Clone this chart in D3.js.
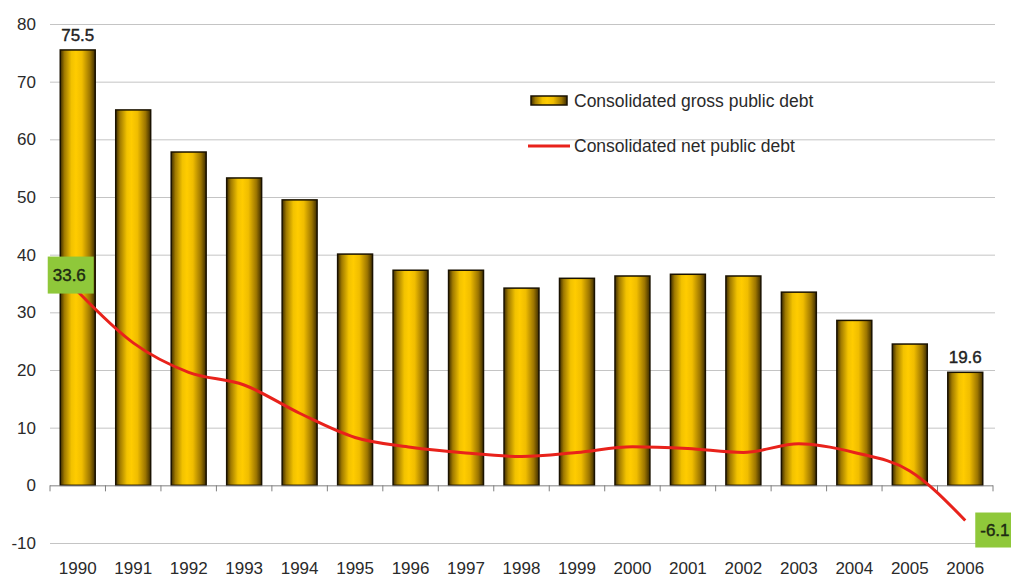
<!DOCTYPE html>
<html>
<head>
<meta charset="utf-8">
<script src="https://cdn.jsdelivr.net/npm/d3@7"></script>
<style>
  html, body { margin: 0; padding: 0; background: #fff; }
  svg { display: block; font-family: "Liberation Sans", Arial, sans-serif; }
</style>
</head>
<body>
<svg id="chart" width="1011" height="578"></svg>
<script>
// Public debt, % of GDP
const years = ["1990","1991","1992","1993","1994","1995","1996","1997","1998",
               "1999","2000","2001","2002","2003","2004","2005","2006"];
const grossDebt = [75.5, 65.1, 57.8, 53.3, 49.5, 40.1, 37.3, 37.3, 34.2,
                   35.9, 36.3, 36.6, 36.3, 33.5, 28.6, 24.5, 19.6];
const netDebt = [33.6, 24.7, 19.6, 17.4, 12.5, 8.3, 6.6, 5.6, 5.0,
                 5.7, 6.7, 6.4, 5.7, 7.2, 5.7, 2.5, -6.1];
const yTicks = [-10, 0, 10, 20, 30, 40, 50, 60, 70, 80];
const legendLabels = ["Consolidated gross public debt", "Consolidated net public debt"];

const svg = d3.select("#chart");

const x = d3.scaleBand().domain(years).range([50, 993]).paddingInner(0.37).paddingOuter(0.185);
const y = d3.scaleLinear().domain([-10, 80]).range([543, 24]);

// bar fill: dark edges, bright gold centre
const defs = svg.append("defs");
const grad = defs.append("linearGradient").attr("id", "barGrad")
  .attr("x1", "0%").attr("x2", "100%").attr("y1", "0%").attr("y2", "0%");
[[0, "#3d2c00"], [0.12, "#a07a00"], [0.32, "#f2c200"], [0.45, "#ffcc00"],
 [0.62, "#f0bd00"], [0.85, "#9c7500"], [1, "#3d2c00"]]
  .forEach(([o, c]) => grad.append("stop").attr("offset", o).attr("stop-color", c));

// gridlines
svg.append("g").selectAll("line")
  .data(yTicks.filter(d => d !== 0))
  .join("line")
  .attr("x1", 50).attr("x2", 995)
  .attr("y1", d => y(d) + 0.5).attr("y2", d => y(d) + 0.5)
  .attr("stroke", "#c4c4c4").attr("stroke-width", 1);

// y-axis labels (plain hyphen for negatives)
const yAxis = svg.append("g").attr("transform", "translate(36,0)")
  .call(d3.axisLeft(y).tickValues(yTicks).tickFormat(d => String(d)).tickSize(0).tickPadding(0));
yAxis.select(".domain").remove();
yAxis.selectAll("text").attr("font-size", 17).attr("fill", "#2a2a2a")
  .attr("font-family", "Liberation Sans, Arial, sans-serif");

// bars
svg.append("g").selectAll("rect")
  .data(years.map((yr, i) => ({ yr, v: grossDebt[i] })))
  .join("rect")
  .attr("x", d => x(d.yr))
  .attr("width", x.bandwidth())
  .attr("y", d => y(d.v))
  .attr("height", d => y(0) - y(d.v))
  .attr("fill", "url(#barGrad)")
  .attr("stroke", "#1a1200").attr("stroke-width", 1.5);

// category axis at zero, ticks on the band boundaries
const gap = (x.step() - x.bandwidth()) / 2;
const boundaries = years.map(yr => x(yr) - gap);
boundaries.push(x(years[years.length - 1]) + x.bandwidth() + gap);
const axisG = svg.append("g");
axisG.append("line")
  .attr("x1", boundaries[0]).attr("x2", boundaries[boundaries.length - 1])
  .attr("y1", y(0) + 0.5).attr("y2", y(0) + 0.5)
  .attr("stroke", "#808080").attr("stroke-width", 1);
axisG.selectAll("line.tick").data(boundaries).join("line").attr("class", "tick")
  .attr("x1", d => d).attr("x2", d => d)
  .attr("y1", y(0)).attr("y2", y(0) + 6)
  .attr("stroke", "#808080").attr("stroke-width", 1);

// year labels
const xAxis = svg.append("g").attr("transform", `translate(0,${y(-10)})`)
  .call(d3.axisBottom(x).tickSize(0).tickPadding(19));
xAxis.select(".domain").remove();
xAxis.selectAll("text").attr("font-size", 17).attr("fill", "#2a2a2a")
  .attr("font-family", "Liberation Sans, Arial, sans-serif");

// net debt line
const line = d3.line()
  .x((d, i) => x(years[i]) + x.bandwidth() / 2)
  .y(d => y(d))
  .curve(d3.curveMonotoneX);
svg.append("path").datum(netDebt)
  .attr("d", line)
  .attr("fill", "none").attr("stroke", "#e8221b").attr("stroke-width", 3)
  .attr("stroke-linejoin", "round");

// value labels for gross debt endpoints
const endIdx = [0, years.length - 1];
svg.append("g").selectAll("text")
  .data(endIdx).join("text")
  .attr("x", i => x(years[i]) + x.bandwidth() / 2)
  .attr("y", i => y(grossDebt[i]) - 9)
  .attr("text-anchor", "middle")
  .attr("font-size", 17).attr("fill", "#222")
  .attr("stroke", "#222").attr("stroke-width", 0.4)
  .text(i => grossDebt[i].toFixed(1));

// value labels for net debt endpoints (green boxes)
const cx0 = x(years[0]) + x.bandwidth() / 2;
const cxN = x(years[years.length - 1]) + x.bandwidth() / 2;
const netLabels = [
  { v: netDebt[0], bx: cx0 - 30, by: y(netDebt[0]) - 35, w: 46, h: 37 },
  { v: netDebt[netDebt.length - 1], bx: cxN + 10, by: y(netDebt[netDebt.length - 1]) - 8, w: 42, h: 35 }
];
const nl = svg.append("g").selectAll("g").data(netLabels).join("g");
nl.append("rect")
  .attr("x", d => d.bx).attr("y", d => d.by)
  .attr("width", d => d.w).attr("height", d => d.h)
  .attr("fill", "#8fc83a");
nl.append("text")
  .attr("x", d => d.bx + 5).attr("y", d => d.by + d.h / 2 + 6)
  .attr("font-size", 17).attr("fill", "#1d2a12")
  .attr("stroke", "#1d2a12").attr("stroke-width", 0.4)
  .text(d => d.v.toFixed(1));

// legend
const lg = svg.append("g");
lg.append("rect").attr("x", 531).attr("y", 96).attr("width", 36).attr("height", 9)
  .attr("fill", "url(#barGrad)").attr("stroke", "#1a1200").attr("stroke-width", 1.5);
lg.append("line").attr("x1", 528).attr("x2", 570).attr("y1", 146).attr("y2", 146)
  .attr("stroke", "#e8221b").attr("stroke-width", 3);
lg.selectAll("text").data(legendLabels).join("text")
  .attr("x", 574).attr("y", (d, i) => 107 + i * 45)
  .attr("font-size", 17.5).attr("fill", "#2a2a2a")
  .text(d => d);
</script>
</body>
</html>
